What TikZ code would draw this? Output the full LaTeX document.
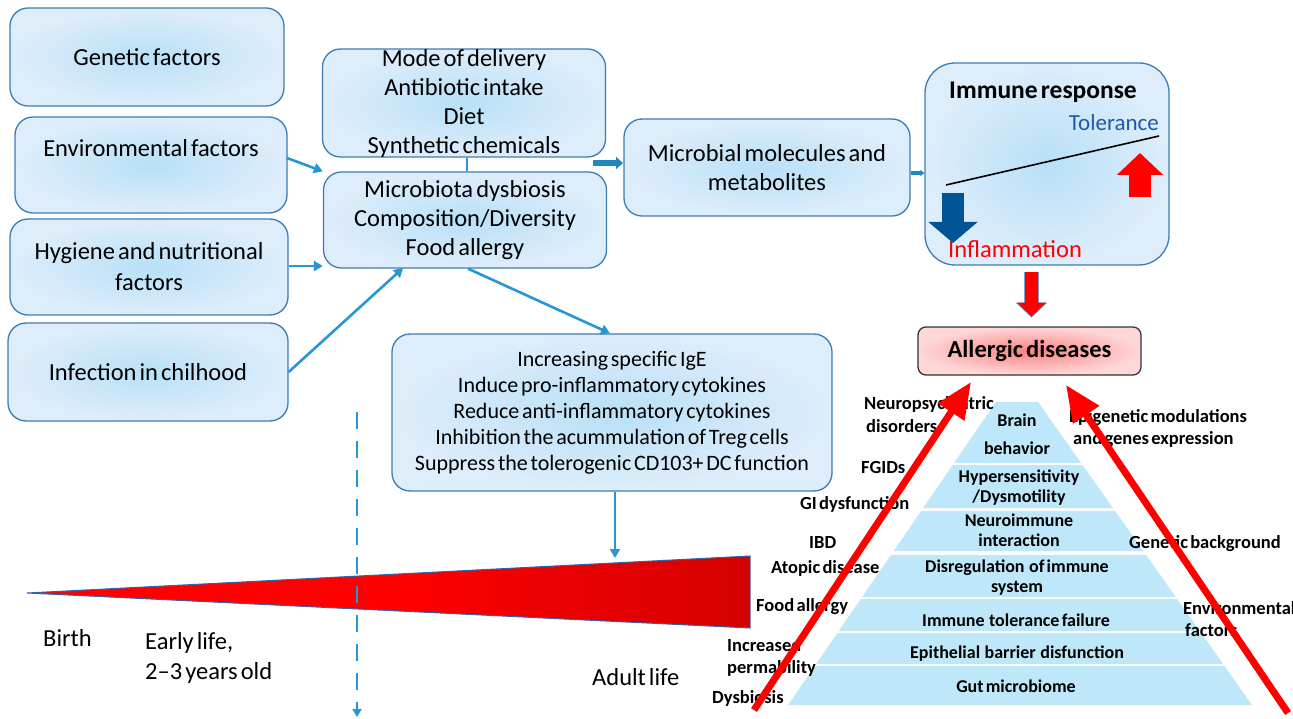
\documentclass[tikz,border=0pt]{standalone}
\usepackage{fontspec}
\setmainfont{Carlito}
\newfontfamily\tightf[WordSpace=0.55]{Carlito}
\usetikzlibrary{arrows.meta}
\definecolor{boxin}{RGB}{184,224,247}
\definecolor{boxout}{RGB}{222,237,251}
\definecolor{boxline}{RGB}{60,125,180}
\definecolor{conn}{RGB}{38,150,212}
\definecolor{pyr}{RGB}{190,232,250}
\definecolor{tolblue}{RGB}{30,90,165}
\definecolor{downblue}{RGB}{0,84,150}
\definecolor{wdark}{RGB}{170,0,0}
\definecolor{wedgeline}{RGB}{50,100,170}
\definecolor{alin}{RGB}{250,130,130}
\definecolor{alout}{RGB}{255,215,215}
\pgfdeclarehorizontalshading{wedgeshade}{100bp}{color(0bp)=(red); color(50bp)=(red); color(100bp)=(wdark)}
\newcommand\mainf{\tightf\fontsize{24.5}{29}\selectfont}
\newcommand\incf{\tightf\fontsize{22}{26}\selectfont}
\newcommand\pyrf{\tightf\fontsize{18}{20}\selectfont\bfseries}
\newcommand\sidef{\tightf\fontsize{18.5}{20}\selectfont\bfseries}
\tikzset{
  bx/.style={draw=boxline, line width=1.3pt, rounded corners=18pt, inner color=boxin, outer color=boxout, font=\mainf, align=center, inner sep=0pt},
  conn/.style={draw=conn, line width=2.6pt, -{Triangle[width=10pt,length=9pt]}},
  plab/.style={font=\pyrf, align=center, inner sep=0pt},
  slab/.style={font=\sidef, anchor=west, inner sep=0pt},
  bigred/.style={draw=red, line width=7pt, -{Triangle[width=30pt,length=36pt]}},
  pyrlayer/.style={fill=pyr},
}
\newcommand\layer[2]{\fill[pyrlayer] ({788+(705-#1)*0.686},#1) -- ({1252-(705-#1)*0.706},#1) -- ({1252-(705-#2)*0.706},#2) -- ({788+(705-#2)*0.686},#2) -- cycle;}
\begin{document}
\begin{tikzpicture}[x=1pt,y=-1pt]
\useasboundingbox (0,0) rectangle (1293,719);
\clip (0,0) rectangle (1293,719);
\fill[white] (0,0) rectangle (1293,719);

% left boxes
\node[bx, minimum width=274pt, minimum height=98pt] (gen) at (147,57) {Genetic factors};
\node[bx, minimum width=272pt, minimum height=96pt] (env) at (151,165) {};
\node[font=\mainf, inner sep=0pt] (envt) at (151,148) {Environmental factors};
\node[bx, minimum width=278pt, minimum height=96pt] (hyg) at (149,267) {Hygiene and nutritional\\[2pt]factors};
\node[bx, minimum width=280pt, minimum height=98pt] (inf) at (148,372) {Infection in chilhood};

% middle boxes
\node[bx, minimum width=283pt, minimum height=108pt] (mode) at (464,103) {Mode of delivery\\Antibiotic intake\\Diet\\Synthetic chemicals};
\node[bx, minimum width=283pt, minimum height=96pt] (micro) at (465,220) {Microbiota dysbiosis\\Composition/Diversity\\Food allergy};
\node[bx, minimum width=286pt, minimum height=97pt] (mol) at (767,167.5) {Microbial molecules and\\metabolites};
\node[bx, minimum width=440pt, minimum height=157pt, font=\incf] (incr) at (612,412.5) {Increasing specific IgE\\Induce pro-inflammatory cytokines\\Reduce anti-inflammatory cytokines\\Inhibition the acummulation of Treg cells\\Suppress the tolerogenic CD103+ DC function};

% immune response box
\node[bx, minimum width=244pt, minimum height=202pt, rounded corners=30pt] (imm) at (1047,164) {};
\node[font=\tightf\fontsize{25.5}{29}\selectfont\bfseries, inner sep=0pt] (immt) at (1043,92) {Immune response};
\node[font=\tightf\fontsize{23}{29}\selectfont, text=tolblue, anchor=east, inner sep=0pt] (tol) at (1159,123) {Tolerance};
\node[font=\mainf, text=red, anchor=west, inner sep=0pt] (infl) at (948,249) {Inflammation};
\coordinate (balL) at (946,185);
\coordinate (balR) at (1159,136);
\draw[black, line width=1.6pt] (balL) -- (balR);
\coordinate (dnA) at (953,193);
\coordinate (dnB) at (953,243);
\draw[downblue, line width=22pt, -{Triangle[width=48pt,length=21pt]}] (dnA) -- (dnB);
\coordinate (upA) at (1140,197);
\coordinate (upB) at (1140,153);
\draw[red, line width=22pt, -{Triangle[width=45pt,length=22pt]}] (upA) -- (upB);

% allergic diseases
\node[draw=black!80, line width=1.3pt, rounded corners=8pt, inner color=alin, outer color=alout, minimum width=223pt, minimum height=48pt, font=\tightf\fontsize{24.5}{29}\selectfont\bfseries] (all) at (1029.5,351) {Allergic diseases};
\draw[draw=boxline!70, line width=15pt, -{Triangle[width=31pt,length=15pt]}] (imm.south -| 1031.5,0) ++(0,6) -- ++(0,46);
\draw[red, line width=13pt, -{Triangle[width=28pt,length=14pt]}] (imm.south -| 1031.5,0) ++(0,6.5) -- ++(0,44.5);

% connectors
\coordinate (envS) at (287,158);
\draw[conn] (envS) -- (micro.north west);
\draw[conn] (hyg.east |- 0,266) -- (micro.west |- 0,266);
\draw[conn] (inf.east |- 0,372) -- (403,268);
\draw[conn, -] (mode.south -| 467,0) -- (micro.north -| 467,0);
\coordinate (thA) at (593,163);
\coordinate (thB) at (623,163);
\draw[draw=conn!90!black, line width=6.5pt, -{Triangle[width=12pt,length=7pt]}] (thA) -- (thB);
\draw[draw=conn!90!black, line width=4pt, -{Triangle[width=6pt,length=4pt]}] (mol.east |- 0,173) -- (imm.west |- 0,173);
\draw[conn] (micro.south -| 468,0) -- (incr.north -| 610,0);
\coordinate (incrEnd) at (615,558);
\draw[conn, line width=2.2pt] (incr.south -| 615,0) -- (incrEnd);

% wedge
\coordinate (wtip) at (27,593);
\coordinate (wtop) at (750,556);
\coordinate (wbot) at (750,628);
\shade[shading=wedgeshade, draw=wedgeline, line width=1pt] (wtip) -- (wtop) -- (wbot) -- cycle;

% dashed line
\coordinate (dashA) at (357,412);
\coordinate (dashB) at (357,717);
\draw[draw=conn, line width=2.6pt, dash pattern=on 17pt off 12pt, -{Triangle[width=9pt,length=8pt]}] (dashA) -- (dashB);

% timeline labels
\node[font=\mainf, anchor=west, inner sep=0pt] (birth) at (43,638) {Birth};
\node[font=\mainf, anchor=west, inner sep=0pt] (early) at (145,643) {Early life,};
\node[font=\mainf, anchor=west, inner sep=0pt] (yrs) at (145,673) {2–3 years old};
\node[font=\mainf, anchor=west, inner sep=0pt] (adult) at (592,677) {Adult life};

% pyramid
\layer{402}{463}
\layer{465}{508}
\layer{511}{551}
\layer{555}{597}
\layer{599}{631}
\layer{633}{664}
\layer{666}{705}
\node[plab] (p1a) at (1017,420) {Brain};
\node[plab] (p1b) at (1017,448) {behavior};
\node[plab] (p2a) at (1019,478) {Hypersensitivity};
\node[plab] (p2b) at (1019,498) {/Dysmotility};
\node[plab] (p3a) at (1019,520) {Neuroimmune};
\node[plab] (p3b) at (1019,540) {interaction};
\node[plab] (p4a) at (1017,568) {Disregulation\ \ of immune};
\node[plab] (p4b) at (1017,588) {system};
\node[plab] (p5) at (1016,620) {Immune\ \ tolerance failure};
\node[plab] (p6) at (1017,654) {Epithelial\ \ barrier\ \ disfunction};
\node[plab] (p7) at (1016,686) {Gut microbiome};

% side labels
\node[slab] (s1) at (864,404) {Neuropsychiatric};
\node[slab] (s2) at (866,426) {disorders};
\node[slab] (s3) at (1069,418) {Epigenetic modulations};
\node[slab] (s4) at (1073,440) {and genes expression};
\node[slab] (s5) at (861,468) {FGIDs};
\node[slab] (s6) at (800,504) {GI dysfunction};
\node[slab] (s7) at (809,542) {IBD};
\node[slab] (s8) at (1129,544) {Genetic background};
\node[slab] (s9) at (771,568) {Atopic disease};
\node[slab] (s10) at (756,607) {Food allergy};
\node[slab] (s11) at (1183,608) {Environmental};
\node[slab] (s12) at (1185,630) {factors};
\node[slab] (s13) at (727,645) {Increased};
\node[slab] (s14) at (727,668) {permability};
\node[slab] (s15) at (712,698) {Dysbiosis};

% big red arrows
\coordinate (lA) at (754,710);
\coordinate (lB) at (971,382);
\coordinate (rA) at (1288,713);
\coordinate (rB) at (1066,385);
\draw[bigred] (lA) -- (lB);
\draw[bigred] (rA) -- (rB);
\end{tikzpicture}
\end{document}
